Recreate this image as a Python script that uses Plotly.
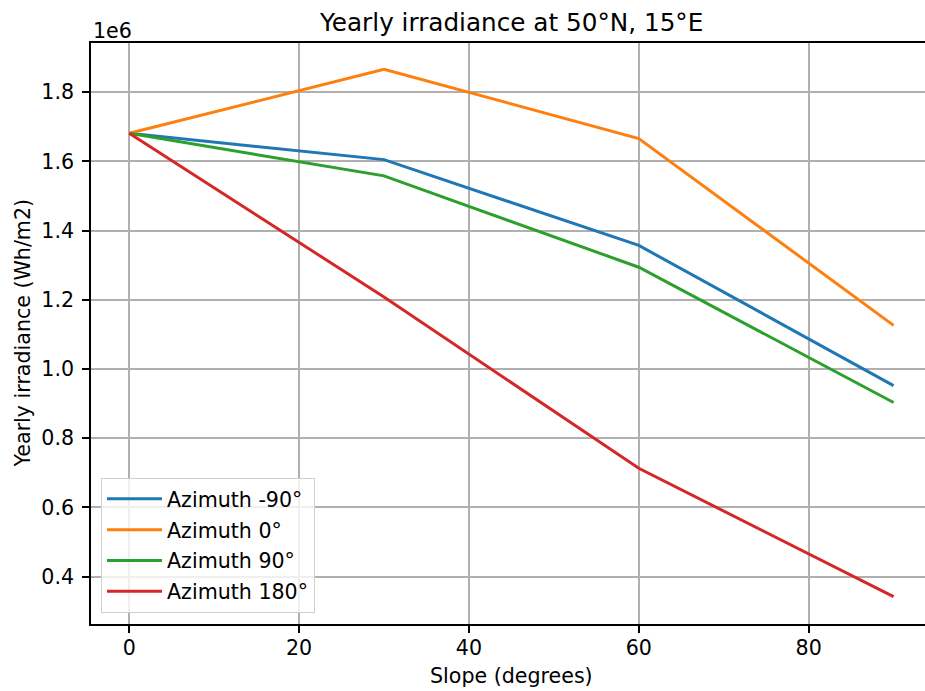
import plotly.graph_objects as go

# slope of the panel (degrees) and yearly irradiance (Wh/m2) per azimuth
slopes = [0, 30, 60, 90]
irr_az_m90 = [1.681e6, 1.605e6, 1.357e6, 0.952e6]
irr_az_0 = [1.681e6, 1.866e6, 1.666e6, 1.126e6]
irr_az_90 = [1.681e6, 1.558e6, 1.294e6, 0.903e6]
irr_az_180 = [1.681e6, 1.208e6, 0.713e6, 0.342e6]

series = [
    ("Azimuth -90°", irr_az_m90, "#1f77b4"),
    ("Azimuth 0°", irr_az_0, "#ff7f0e"),
    ("Azimuth 90°", irr_az_90, "#2ca02c"),
    ("Azimuth 180°", irr_az_180, "#d62728"),
]

y_ticks = [0.4e6, 0.6e6, 0.8e6, 1.0e6, 1.2e6, 1.4e6, 1.6e6, 1.8e6]
y_tick_text = ["0.4", "0.6", "0.8", "1.0", "1.2", "1.4", "1.6", "1.8"]
x_ticks = [0, 20, 40, 60, 80]

fig = go.Figure()
for name, vals, col in series:
    fig.add_trace(go.Scatter(x=slopes, y=vals, mode="lines", name=name,
                             legendgroup=name,
                             line=dict(color=col, width=3)))

font = "DejaVu Sans"
fs = 20.6
fig.update_layout(
    width=925, height=691,
    margin=dict(l=91, r=0, t=43, b=67, autoexpand=False),
    plot_bgcolor="white", paper_bgcolor="white",
    font=dict(family=font, size=fs, color="black"),
    showlegend=True,
    legend=dict(x=0.012, y=0.019, xanchor="left", yanchor="bottom",
                bgcolor="rgba(255,255,255,0.8)", bordercolor="#d0d0d0",
                borderwidth=1, font=dict(size=fs), tracegroupgap=1,
                traceorder="grouped", itemwidth=55),
    annotations=[
        dict(text="Yearly irradiance at 50°N, 15°E", xref="paper", yref="paper",
             x=0.504, y=1, yshift=21, xanchor="center", yanchor="middle",
             showarrow=False, font=dict(size=24.7)),
        dict(text="1e6", xref="paper", yref="paper", x=0, y=1, yshift=12,
             xanchor="left", yanchor="middle", showarrow=False,
             font=dict(size=fs)),
        dict(text="Slope (degrees)", xref="paper", yref="paper", x=0.504, y=0,
             yshift=-52, xanchor="center", yanchor="middle", showarrow=False,
             font=dict(size=fs)),
        dict(text="Yearly irradiance (Wh/m2)", xref="paper", yref="paper",
             x=0, y=0.5, xshift=-69, xanchor="center", yanchor="middle",
             textangle=-90, showarrow=False, font=dict(size=fs)),
    ],
)
fig.update_xaxes(range=[-4.5, 93.7], tickvals=x_ticks, ticks="outside",
                 ticklen=7, tickwidth=1.6, tickcolor="black",
                 showline=True, linecolor="black", linewidth=1.6, mirror=True,
                 showgrid=True, gridcolor="#b0b0b0", gridwidth=1.6,
                 zeroline=False, automargin=False, ticklabelstandoff=-3)
fig.update_yaxes(range=[0.263e6, 1.942e6], tickvals=y_ticks,
                 ticktext=y_tick_text, ticks="outside",
                 ticklen=7, tickwidth=1.6, tickcolor="black",
                 showline=True, linecolor="black", linewidth=1.6,
                 showgrid=True, gridcolor="#b0b0b0", gridwidth=1.6,
                 zeroline=False, automargin=False, ticklabelstandoff=4)

# drop the default 8px body margin so the figure fills the window exactly
fig.write_html("out.html", config={"displayModeBar": False},
               post_script="document.body.style.margin='0';"
                           "document.body.style.overflow='hidden';")
